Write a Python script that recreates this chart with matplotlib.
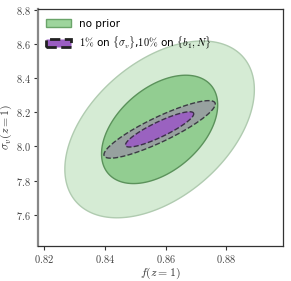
import numpy as np
import matplotlib
matplotlib.use("Agg")
import matplotlib.pyplot as plt
from matplotlib.patches import Patch

plt.rcParams['mathtext.fontset'] = 'cm'
plt.rcParams['font.family'] = 'DejaVu Sans'

# fiducial values
senter = (0.858, 8.10)

# 1-sigma errors and correlation, f(z=1) vs sigma_v(z=1)
ingen_prior = {"sig_f": 0.0126, "sig_v": 0.209, "rho": 0.45}
med_prior = {"sig_f": 0.0074, "sig_v": 0.068, "rho": 0.88}

# delta chi^2 scale for 1 and 2 sigma in 2D
nivaaer = [1.52, 2.48]

x_ticks = [0.82, 0.84, 0.86, 0.88]
y_ticks = [7.6, 7.8, 8.0, 8.2, 8.4, 8.6, 8.8]


def ellipse_punkter(par, k, n=300):
    t = np.linspace(0, 2 * np.pi, n)
    r = par["rho"]
    x = senter[0] + k * par["sig_f"] * np.cos(t)
    y = senter[1] + k * par["sig_v"] * (r * np.cos(t) + np.sqrt(1 - r**2) * np.sin(t))
    return x, y


fig = plt.figure(figsize=(2.91, 2.81), dpi=100)
ax = fig.add_axes([0.1296, 0.1256, 0.8419, 0.8424])

# no prior
x, y = ellipse_punkter(ingen_prior, nivaaer[1])
ax.fill(x, y, facecolor='#d5ebd4', edgecolor='#b0cbb0', lw=1.0, zorder=1)
x, y = ellipse_punkter(ingen_prior, nivaaer[0])
ax.fill(x, y, facecolor='#92cd91', edgecolor='#5b925b', lw=1.0, zorder=2)

# with priors
x, y = ellipse_punkter(med_prior, nivaaer[1])
ax.fill(x, y, facecolor='#97a19f', edgecolor='#3c3c44', lw=1.0, ls='--', zorder=3)
x, y = ellipse_punkter(med_prior, nivaaer[0])
ax.fill(x, y, facecolor='#9a62c0', edgecolor='#3c3048', lw=1.0, ls='--', zorder=4)

ax.set_xlim(0.8178, 0.8986)
ax.set_ylim(7.418, 8.806)
ax.set_xticks(x_ticks)
ax.set_xticklabels([r'$%.2f$' % v for v in x_ticks], fontsize=7.5, color='#444444')
ax.set_yticks(y_ticks)
ax.set_yticklabels([r'$%.1f$' % v for v in y_ticks], fontsize=7.5, color='#444444')
ax.tick_params(direction='out', length=3, width=0.8, color='#333333', pad=2)

ax.set_xlabel(r'$f(z=1)$', fontsize=8.5, color='#333333', labelpad=1)
ax.set_ylabel(r'$\sigma_v(z=1)$', fontsize=8.5, color='#333333', labelpad=1)

for s in ['top', 'right', 'bottom']:
    ax.spines[s].set_color('#333333')
    ax.spines[s].set_linewidth(0.9)
ax.spines['left'].set_color('#888888')
ax.spines['left'].set_linewidth(1.6)

handles = [
    Patch(facecolor='#9ed59d', edgecolor='#6aa469', lw=1.0, label='no prior'),
    Patch(facecolor='#9a5ec2', edgecolor='#222222', lw=2.0, ls='--',
          label=r'$1\%$ on $\{\sigma_v\}$,$10\%$ on $\{b_1,N\}$'),
]
ax.legend(handles=handles, loc='upper left', frameon=False, fontsize=7.5,
          handlelength=2.4, handleheight=0.9, borderaxespad=0.4, labelspacing=0.6,
          bbox_to_anchor=(0.0, 0.995))

fig.savefig('out.png', dpi=100)
